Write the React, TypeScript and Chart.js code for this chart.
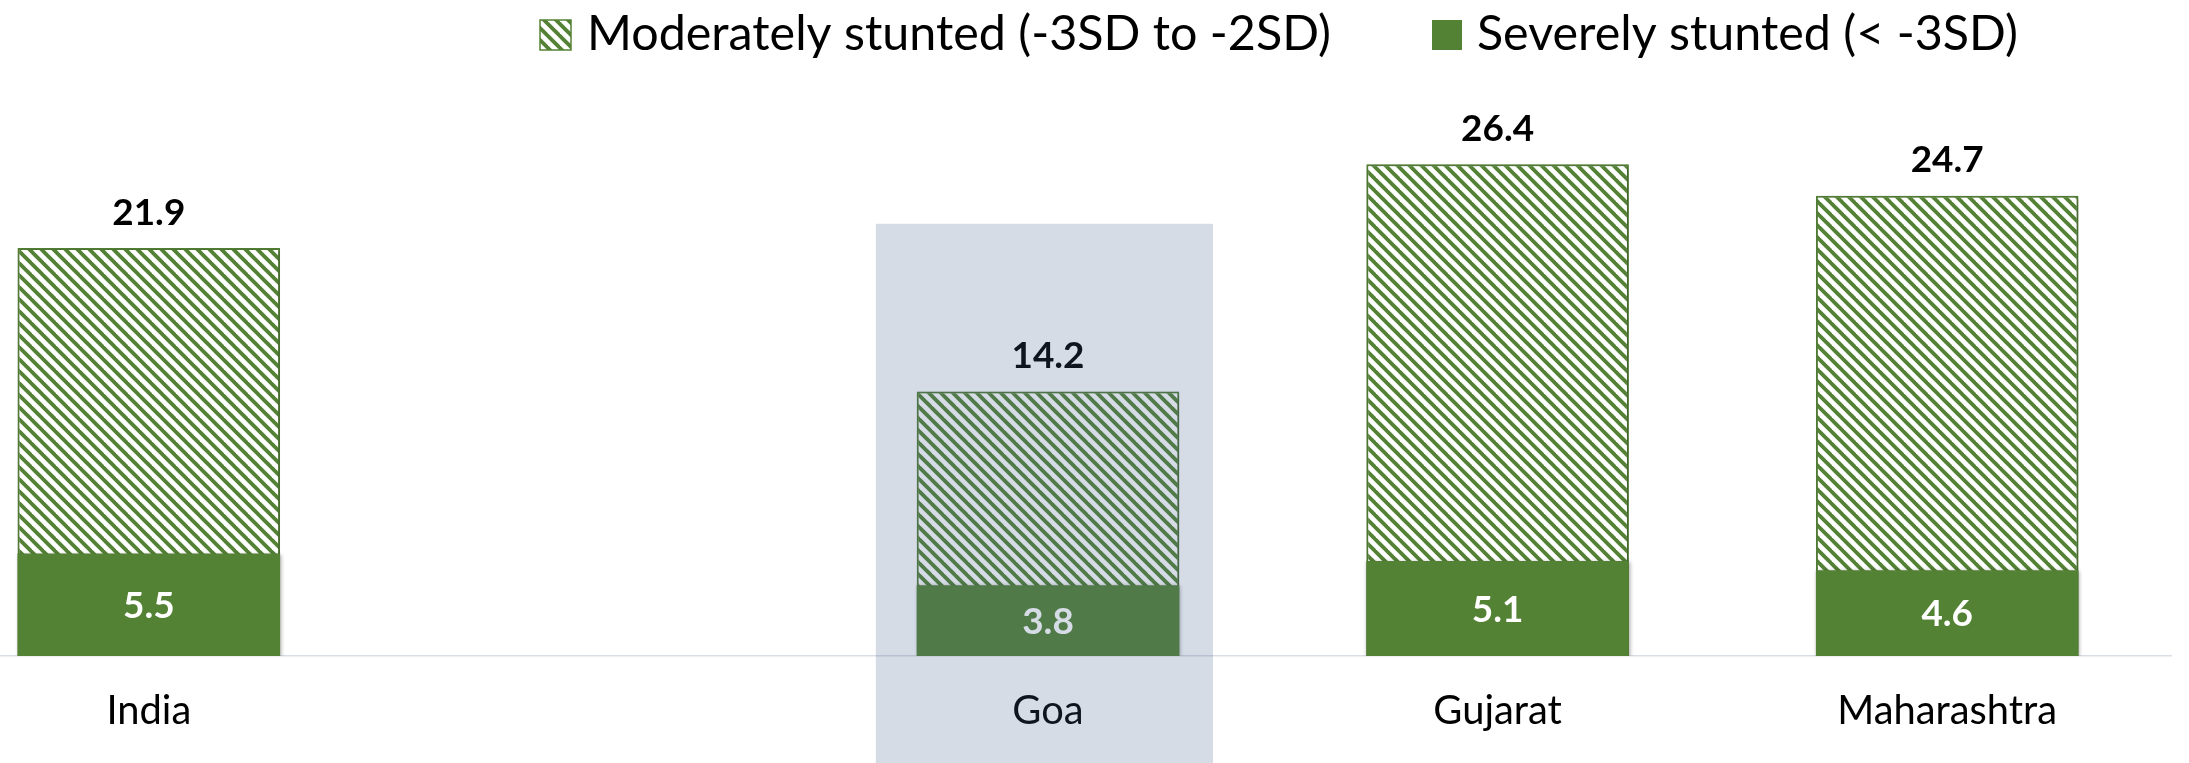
import React, { useEffect, useRef } from 'react';
import { Chart, registerables } from 'chart.js';

Chart.register(...registerables);

// ---- data ----
const categories = ['India', '', 'Goa', 'Gujarat', 'Maharashtra'];
const moderateValues: (number | null)[] = [21.9, null, 14.2, 26.4, 24.7];
const severeValues: (number | null)[] = [5.5, null, 3.8, 5.1, 4.6];
const seriesLabels = ['Moderately stunted (-3SD to -2SD)', 'Severely stunted (< -3SD)'];
const highlightIndex = 2;
const yMin = 0;
const yMax = 30;

// ---- style ----
const GREEN = '#548235';
const FONT = "Lato, 'Noto Sans', sans-serif";
const CANVAS_LEFT = -76; // plot area starts left of the page (cropped original)
const CANVAS_W = 2248;
const CANVAS_H = 763;

function makeHatch(): CanvasPattern | string {
  const s = 12;
  const c = document.createElement('canvas');
  c.width = s;
  c.height = s;
  const g = c.getContext('2d');
  if (!g) return GREEN;
  g.fillStyle = '#ffffff';
  g.fillRect(0, 0, s, s);
  g.strokeStyle = GREEN;
  g.lineWidth = 3.8;
  for (const o of [-s, 0, s]) {
    g.beginPath();
    g.moveTo(o - 2, -2);
    g.lineTo(o + s + 2, s + 2);
    g.stroke();
  }
  return g.createPattern(c, 'repeat') || GREEN;
}

function fitSize(text: string, weight: string, target: number): number {
  const m = document.createElement('canvas').getContext('2d');
  if (!m) return 40;
  m.font = `${weight} 100px ${FONT}`;
  return (100 * target) / m.measureText(text).width;
}

export default function App() {
  const ref = useRef<HTMLCanvasElement | null>(null);

  useEffect(() => {
    document.body.style.margin = '0';
    document.body.style.overflow = 'hidden';
    const canvas = ref.current;
    if (!canvas) return;

    const hatch = makeHatch();
    const legendSize = fitSize(seriesLabels[1], 'normal', 541);
    const catSize = fitSize('Maharashtra', 'normal', 220);
    const valSize = fitSize('21.9', 'bold', 73);

    const px = (pageX: number) => pageX - CANVAS_LEFT;

    const plugin = {
      id: 'customDraw',
      beforeDatasetsDraw(chart: any) {
        const ctx = chart.ctx;
        ctx.save();
        ctx.shadowColor = 'rgba(0,0,0,0.35)';
        ctx.shadowBlur = 4;
        ctx.shadowOffsetX = 1;
        ctx.shadowOffsetY = 1;
      },
      afterDatasetsDraw(chart: any) {
        const ctx = chart.ctx;
        ctx.restore();
        ctx.save();
        ctx.textAlign = 'center';
        ctx.textBaseline = 'alphabetic';
        ctx.font = `bold ${valSize}px ${FONT}`;
        const mMeta = chart.getDatasetMeta(0);
        const sMeta = chart.getDatasetMeta(1);
        const digitH = valSize * 0.72;
        moderateValues.forEach((v, i) => {
          if (v == null) return;
          const el = mMeta.data[i];
          ctx.fillStyle = '#000000';
          ctx.fillText(v.toFixed(1), el.x, el.y - 23.5);
        });
        severeValues.forEach((v, i) => {
          if (v == null) return;
          const el = sMeta.data[i];
          const cy = (el.y + el.base) / 2;
          ctx.fillStyle = '#ffffff';
          ctx.fillText(v.toFixed(1), el.x, cy + digitH / 2);
        });
        ctx.restore();
      },
      afterDraw(chart: any) {
        const ctx = chart.ctx;
        ctx.save();
        // legend
        ctx.font = `normal ${legendSize}px ${FONT}`;
        ctx.textAlign = 'left';
        ctx.textBaseline = 'alphabetic';
        ctx.fillStyle = hatch as any;
        ctx.fillRect(px(540), 20, 31, 30);
        ctx.strokeStyle = GREEN;
        ctx.lineWidth = 1.5;
        ctx.strokeRect(px(540), 20, 31, 30);
        ctx.fillStyle = '#000000';
        ctx.fillText(seriesLabels[0], px(587), 50);
        ctx.fillStyle = GREEN;
        ctx.fillRect(px(1432), 20, 30, 30);
        ctx.fillStyle = '#000000';
        ctx.fillText(seriesLabels[1], px(1477), 50);

        // highlight overlay for Goa
        const xs = chart.scales.x;
        const ys = chart.scales.y;
        const c = xs.getPixelForValue(highlightIndex);
        const step = xs.getPixelForValue(highlightIndex + 1) - c;
        const left = c - 0.383 * step;
        const right = c + 0.367 * step;
        const top = ys.getPixelForValue(23.2);
        ctx.fillStyle = 'rgba(68,96,141,0.22)';
        ctx.fillRect(left, top, right - left, chart.height - top);
        ctx.restore();
      },
    };

    const chart = new Chart(canvas, {
      type: 'bar',
      data: {
        labels: categories,
        datasets: [
          {
            label: seriesLabels[0],
            data: moderateValues,
            backgroundColor: hatch as any,
            borderColor: GREEN,
            borderWidth: 2,
            order: 1,
            categoryPercentage: 1,
            barPercentage: 0.584,
          },
          {
            label: seriesLabels[1],
            data: severeValues,
            backgroundColor: GREEN,
            borderWidth: 0,
            order: 0,
            categoryPercentage: 1,
            barPercentage: 0.584,
          },
        ],
      },
      options: {
        animation: false,
        responsive: false,
        devicePixelRatio: 1,
        layout: { padding: { top: 656 - 30 * 18.63, left: 0, right: 0, bottom: 0 } },
        plugins: {
          legend: { display: false },
          tooltip: { enabled: false },
        },
        scales: {
          x: {
            stacked: true,
            offset: true,
            grid: { display: false },
            border: { display: true, color: '#D9DDE5', width: 1.5 },
            ticks: {
              color: '#000000',
              font: { family: FONT, size: catSize },
              padding: 23,
            },
            afterFit: (scale: any) => {
              scale.height = CANVAS_H - 656;
            },
          },
          y: {
            stacked: false,
            display: false,
            min: yMin,
            max: yMax,
          },
        },
      },
      plugins: [plugin],
    });

    return () => {
      chart.destroy();
    };
  }, []);

  return (
    <div style={{ position: 'relative', width: 2189, height: CANVAS_H, overflow: 'hidden' }}>
      <canvas
        ref={ref}
        width={CANVAS_W}
        height={CANVAS_H}
        style={{ position: 'absolute', left: CANVAS_LEFT, top: 0, width: CANVAS_W, height: CANVAS_H }}
      />
    </div>
  );
}
